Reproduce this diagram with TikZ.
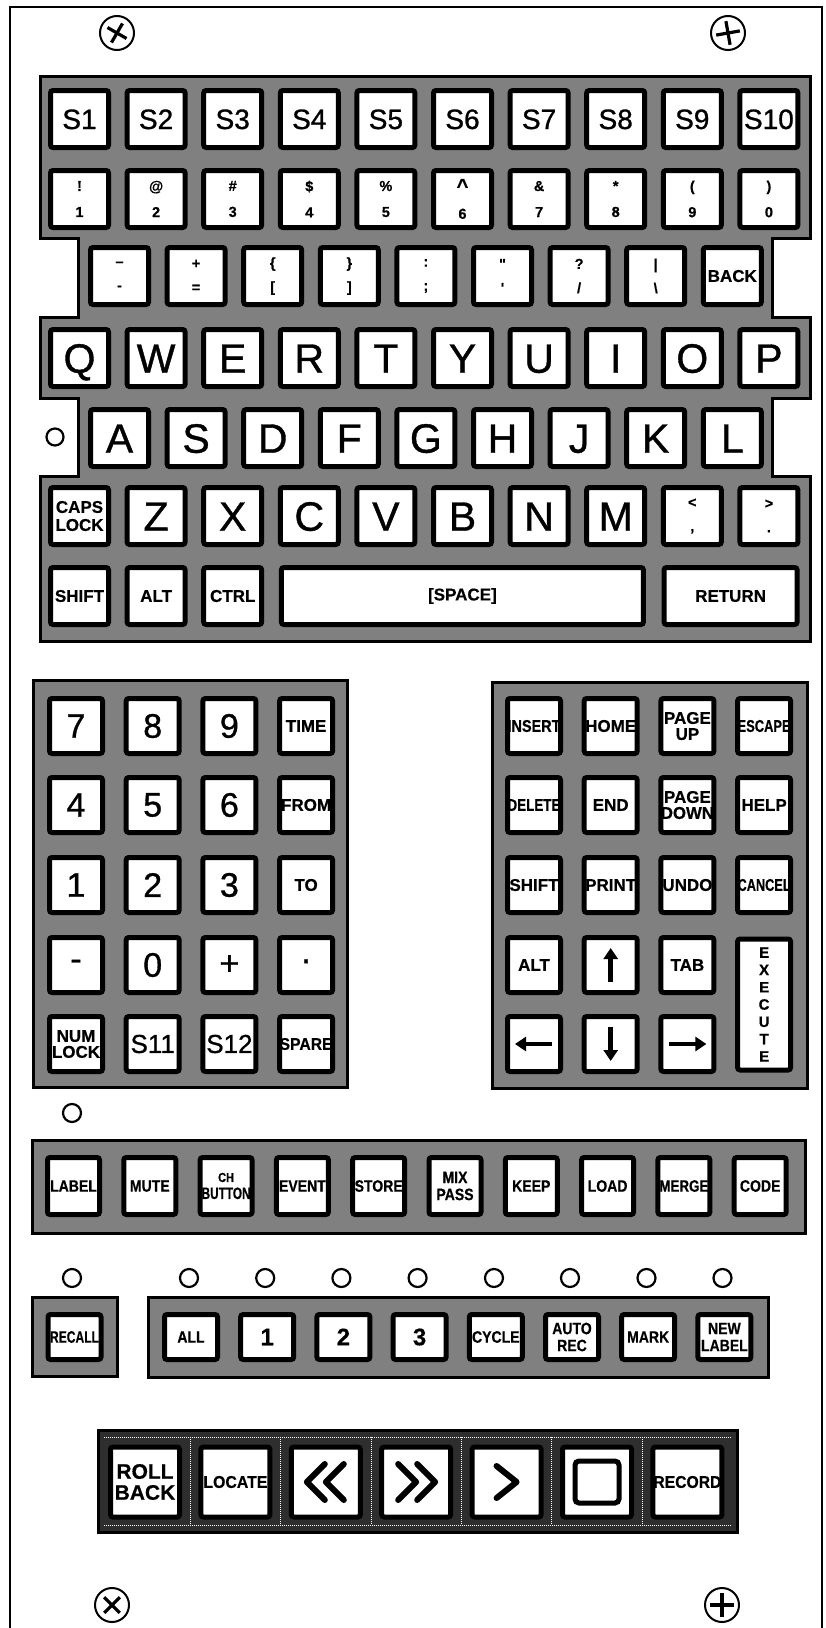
\documentclass[tikz,border=0pt]{standalone}
\usepackage{fontspec}
\usepackage{graphicx}
\setmainfont{Liberation Sans}
\newfontfamily\condf[FakeStretch=0.85,FakeBold=0.5]{Liberation Sans}
\newfontfamily\heavyf[FakeBold=0.5]{Liberation Sans}
\newfontfamily\medf[FakeBold=0.9]{Liberation Sans}
\usetikzlibrary{arrows.meta,calc}
\newsavebox\fitbox
\newcommand\fitlab[2]{\sbox\fitbox{#2}\ifdim\wd\fitbox>#1\relax\resizebox{#1}{\height}{\usebox\fitbox}\else\usebox\fitbox\fi}
\newcommand\lb[1]{\fitlab{53pt}{#1}}
\newcommand\lbf[1]{\fitlab{49pt}{#1}}
\tikzset{
 panel/.style={draw=black,line width=3pt,fill=black!50},
 tpanel/.style={draw=black,line width=3pt,fill=black!82},
 key/.style={draw=black,line width=5pt,fill=white,rounded corners=2.5pt,inner sep=0pt,align=center},
 mk/.style={key,minimum width=58pt,minimum height=57pt},
 pk/.style={key,minimum width=53pt,minimum height=55pt},
 fk/.style={key,minimum width=52pt,minimum height=57pt},
 lk/.style={key,minimum width=53pt,minimum height=45pt},
 tk/.style={key,minimum width=69pt,minimum height=70pt},
 bigf/.style={font=\medf\fontsize{41}{41}\selectfont,text height=29.4pt,text depth=0pt},
 sf/.style={font=\medf\fontsize{28}{28}\selectfont,text height=20pt,text depth=0pt},
 symf/.style={font=\heavyf\bfseries\fontsize{14.5}{15}\selectfont},
 lab/.style={font=\heavyf\bfseries\fontsize{17}{18}\selectfont},
 plab/.style={font=\heavyf\bfseries\fontsize{17}{16}\selectfont},
 clab/.style={font=\condf\bfseries\fontsize{16.5}{17}\selectfont},
 padf/.style={font=\medf\fontsize{34}{34}\selectfont},
 digf/.style={font=\heavyf\bfseries\fontsize{24}{24}\selectfont},
 rbf/.style={font=\heavyf\bfseries\fontsize{21}{21}\selectfont},
 led/.style={circle,draw=black,line width=2.2pt,minimum size=18pt,inner sep=0pt},
 screw/.style={circle,draw=black,line width=2pt,minimum size=34pt,inner sep=0pt},
 cross/.style={line width=3.2pt},
 arw/.style={line width=4.5pt,-{Triangle[length=11pt,width=14pt]}},
 chev/.style={line width=6pt,line cap=round,line join=round},
 sep/.style={draw=white,line width=1pt,densely dotted},
}
\begin{document}
\begin{tikzpicture}[x=1pt,y=-1pt]
\useasboundingbox (0,0) rectangle (825,1628);
\fill[white] (0,0) rectangle (825,1628);
% outer frame
\draw[line width=2.5pt] (10,1628) -- (10,7) -- (822,7) -- (822,1628);
% screws
\node[screw] (sc1) at (117,33) {};
\node[screw] (sc2) at (728,33) {};
\node[screw] (sc3) at (112,1605) {};
\node[screw] (sc4) at (722,1605) {};
\draw[cross] ($(sc1)+(30:11)$) -- ($(sc1)+(210:11)$);
\draw[cross] ($(sc1)+(120:11)$) -- ($(sc1)+(300:11)$);
\draw[cross] ($(sc2)+(80:12)$) -- ($(sc2)+(260:12)$);
\draw[cross] ($(sc2)+(170:12)$) -- ($(sc2)+(350:12)$);
\draw[cross] ($(sc3)+(45:11)$) -- ($(sc3)+(225:11)$);
\draw[cross] ($(sc3)+(135:11)$) -- ($(sc3)+(315:11)$);
\draw[cross] ($(sc4)+(90:12)$) -- ($(sc4)+(270:12)$);
\draw[cross] ($(sc4)+(0:12)$) -- ($(sc4)+(180:12)$);

% ===== main keyboard panel =====
\draw[panel] (40,76) -- (810,76) -- (810,238) -- (772,238) -- (772,317) -- (810,317) -- (810,398)
  -- (772,398) -- (772,476) -- (810,476) -- (810,641) -- (40,641) -- (40,476) -- (78,476)
  -- (78,398) -- (40,398) -- (40,317) -- (78,317) -- (78,238) -- (40,238) -- cycle;
% row 1
\foreach \i in {1,...,10} \node[mk,sf] (s\i) at ({79.5+76.6*(\i-1)},119) {S\i};
% row 2
\node[mk,symf] (n1) at (79.5,199) {!\\[11pt]1};
\node[mk,symf] (n2) at (156.1,199) {@\\[11pt]2};
\node[mk,symf] (n3) at (232.7,199) {\#\\[11pt]3};
\node[mk,symf] (n4) at (309.3,199) {\$\\[11pt]4};
\node[mk,symf] (n5) at (385.9,199) {\%\\[11pt]5};
\node[mk,symf] (n6) at (462.5,199) {{\fontsize{20}{15}\selectfont\textasciicircum}\\[11pt]6};
\node[mk,symf] (n7) at (539.1,199) {\&\\[11pt]7};
\node[mk,symf] (n8) at (615.7,199) {*\\[11pt]8};
\node[mk,symf] (n9) at (692.3,199) {(\\[11pt]9};
\node[mk,symf] (n0) at (768.9,199) {)\\[11pt]0};
% row 3
\node[mk,symf] (m1) at (119.5,276) {\textendash\\[9pt]-};
\node[mk,symf] (m2) at (196.1,276) {+\\[9pt]=};
\node[mk,symf] (m3) at (272.7,276) {\{\\[9pt][};
\node[mk,symf] (m4) at (349.3,276) {\}\\[9pt]]};
\node[mk,symf] (m5) at (425.9,276) {:\\[9pt];};
\node[mk,symf] (m6) at (502.5,276) {"\\[9pt]\textquotesingle};
\node[mk,symf] (m7) at (579.1,276) {?\\[9pt]/};
\node[mk,symf] (m8) at (655.7,276) {|\\[9pt]\textbackslash};
\node[mk,lab] (back) at (732.3,276) {\lb{BACK}};
% row 4
\foreach \l [count=\i from 0] in {Q,W,E,R,T,Y,U,I,O,P}
  \node[mk,bigf] (q\l) at ({79.5+76.6*\i},358) {\l};
% row 5
\foreach \l [count=\i from 0] in {A,S,D,F,G,H,J,K,L}
  \node[mk,bigf] (a\l) at ({119.5+76.6*\i},438) {\l};
\node[led,minimum size=17pt] (ledA) at (55,437) {};
% row 6
\node[mk,lab] (caps) at (79.5,516) {\lb{CAPS}\\\lb{LOCK}};
\foreach \l [count=\i from 1] in {Z,X,C,V,B,N,M}
  \node[mk,bigf] (z\l) at ({79.5+76.6*\i},516) {\l};
\node[mk,symf] (lt) at (692.3,516) {<\\[9pt],};
\node[mk,symf] (gt) at (768.9,516) {>\\[9pt].};
% row 7
\node[mk,lab] (shift) at (79.5,596) {\lb{SHIFT}};
\node[mk,lab] (alt) at (156.1,596) {\lb{ALT}};
\node[mk,lab] (ctrl) at (232.7,596) {\lb{CTRL}};
\node[mk,lab,minimum width=362pt] (space) at (462.4,596) {[SPACE]};
\node[mk,lab,minimum width=133pt] (return) at (730.6,596) {RETURN};

% ===== numeric keypad =====
\draw[panel] (33,680) rectangle (347,1087);
\node[pk,padf] (p7) at (76,726) {7};
\node[pk,padf] (p8) at (152.7,726) {8};
\node[pk,padf] (p9) at (229.4,726) {9};
\node[pk,plab] (time) at (306.1,726) {\lb{TIME}};
\node[pk,padf] (p4) at (76,805) {4};
\node[pk,padf] (p5) at (152.7,805) {5};
\node[pk,padf] (p6) at (229.4,805) {6};
\node[pk,plab] (from) at (306.1,805) {\lb{FROM}};
\node[pk,padf] (p1) at (76,885) {1};
\node[pk,padf] (p2) at (152.7,885) {2};
\node[pk,padf] (p3) at (229.4,885) {3};
\node[pk,plab] (to) at (306.1,885) {\lb{TO}};
\node[pk,padf] (pminus) at (76,965) {-};
\node[pk,padf] (p0) at (152.7,965) {0};
\node[pk,padf] (pplus) at (229.4,965) {+};
\node[pk,padf] (pdot) at (306.1,965) {\textperiodcentered};
\node[pk,plab] (numlock) at (76,1044) {\lb{NUM}\\\lb{LOCK}};
\node[pk,font=\medf\fontsize{26}{26}\selectfont] (s11) at (152.7,1044) {S11};
\node[pk,font=\medf\fontsize{26}{26}\selectfont] (s12) at (229.4,1044) {S12};
\node[pk,plab] (spare) at (306.1,1044) {\lb{SPARE}};

% ===== editing keypad =====
\draw[panel] (492,682) rectangle (807,1088);
\node[pk,plab] (ins) at (534,726) {\lb{INSERT}};
\node[pk,plab] (home) at (610.7,726) {\lb{HOME}};
\node[pk,plab] (pgup) at (687.4,726) {\lb{PAGE}\\\lb{UP}};
\node[pk,plab] (esc) at (764.1,726) {\lb{ESCAPE}};
\node[pk,plab] (del) at (534,805) {\lb{DELETE}};
\node[pk,plab] (endk) at (610.7,805) {\lb{END}};
\node[pk,plab] (pgdn) at (687.4,805) {\lb{PAGE}\\\lb{DOWN}};
\node[pk,plab] (help) at (764.1,805) {\lb{HELP}};
\node[pk,plab] (rshift) at (534,885) {\lb{SHIFT}};
\node[pk,plab] (print) at (610.7,885) {\lb{PRINT}};
\node[pk,plab] (undo) at (687.4,885) {\lb{UNDO}};
\node[pk,plab] (cancel) at (764.1,885) {\lb{CANCEL}};
\node[pk,plab] (ralt) at (534,965) {\lb{ALT}};
\node[pk] (up) at (610.7,965) {};
\node[pk,plab] (tab) at (687.4,965) {\lb{TAB}};
\node[pk,font=\heavyf\bfseries\fontsize{15}{17.3}\selectfont,minimum height=131pt] (exec) at (764.1,1004.5) {E\\X\\E\\C\\U\\T\\E};
\node[pk] (left) at (534,1044) {};
\node[pk] (down) at (610.7,1044) {};
\node[pk] (right) at (687.4,1044) {};
\draw[arw] ($(up)+(0,17)$) -- ($(up)+(0,-17)$);
\draw[arw] ($(down)+(0,-17)$) -- ($(down)+(0,17)$);
\draw[arw] ($(left)+(18,0)$) -- ($(left)+(-19,0)$);
\draw[arw] ($(right)+(-18,0)$) -- ($(right)+(19,0)$);

% ===== function row =====
\node[led] (ledF) at (72,1113) {};
\draw[panel] (32,1140) rectangle (805,1233);
\node[fk,clab] (label) at (73.5,1186) {\lbf{LABEL}};
\node[fk,clab] (mute) at (149.8,1186) {\lbf{MUTE}};
\node[fk,clab] (chb) at (226.1,1186) {{\fontsize{13}{13}\selectfont CH}\\\lbf{BUTTON}};
\node[fk,clab] (event) at (302.4,1186) {\lbf{EVENT}};
\node[fk,clab] (store) at (378.7,1186) {\lbf{STORE}};
\node[fk,clab] (mix) at (455,1186) {\lbf{MIX}\\\lbf{PASS}};
\node[fk,clab] (keep) at (531.3,1186) {\lbf{KEEP}};
\node[fk,clab] (load) at (607.6,1186) {\lbf{LOAD}};
\node[fk,clab] (merge) at (683.9,1186) {\lbf{MERGE}};
\node[fk,clab] (code) at (760.2,1186) {\lbf{CODE}};

% ===== recall / mode rows =====
\draw[panel] (32,1297) rectangle (117,1376);
\node[lk,clab] (recall) at (74.5,1337) {\lbf{RECALL}};
\draw[panel] (148,1297) rectangle (768,1377);
\node[lk,clab] (all) at (191,1337) {\lbf{ALL}};
\node[lk,digf] (m1k) at (267.2,1337) {1};
\node[lk,digf] (m2k) at (343.4,1337) {2};
\node[lk,digf] (m3k) at (419.6,1337) {3};
\node[lk,clab] (cycle) at (495.8,1337) {\lbf{CYCLE}};
\node[lk,clab] (autorec) at (572,1337) {\lbf{AUTO}\\\lbf{REC}};
\node[lk,clab] (mark) at (648.2,1337) {\lbf{MARK}};
\node[lk,clab] (newlabel) at (724.4,1337) {\lbf{NEW}\\\lbf{LABEL}};
\node[led] (l0) at (72,1278) {};
\node[led] (l1) at (189,1278) {};
\node[led] (l2) at (265.2,1278) {};
\node[led] (l3) at (341.4,1278) {};
\node[led] (l4) at (417.6,1278) {};
\node[led] (l5) at (494,1278) {};
\node[led] (l6) at (570,1278) {};
\node[led] (l7) at (646.5,1278) {};
\node[led] (l8) at (722.5,1278) {};

% ===== transport row =====
\draw[tpanel] (98,1430) rectangle (737,1532);
\draw[sep] (104,1437) -- (731,1437);
\draw[sep] (104,1525) -- (731,1525);
\foreach \i in {0,...,5} \draw[sep] ({190.2+90.4*\i},1437) -- ({190.2+90.4*\i},1525);
\node[tk,rbf] (roll) at (145,1482) {ROLL\\BACK};
\node[tk,lab] (locate) at (235.4,1482) {\fitlab{64pt}{LOCATE}};
\node[tk] (rew) at (325.8,1482) {};
\node[tk] (ffw) at (416.2,1482) {};
\node[tk] (play) at (506.6,1482) {};
\node[tk] (stop) at (597,1482) {};
\node[tk,lab] (record) at (687.4,1482) {\fitlab{68pt}{RECORD}};
\draw[chev] ($(rew)+(-1,-18)$) -- ($(rew)+(-19,0)$) -- ($(rew)+(-1,18)$);
\draw[chev] ($(rew)+(18,-18)$) -- ($(rew)+(0,0)$) -- ($(rew)+(18,18)$);
\draw[chev] ($(ffw)+(-18,-18)$) -- ($(ffw)+(0,0)$) -- ($(ffw)+(-18,18)$);
\draw[chev] ($(ffw)+(1,-18)$) -- ($(ffw)+(19,0)$) -- ($(ffw)+(1,18)$);
\draw[chev] ($(play)+(-10,-16)$) -- ($(play)+(10,0)$) -- ($(play)+(-10,16)$);
\draw[line width=5pt,rounded corners=4pt] ($(stop)+(-22,-21)$) rectangle ($(stop)+(22,21)$);
\end{tikzpicture}
\end{document}
